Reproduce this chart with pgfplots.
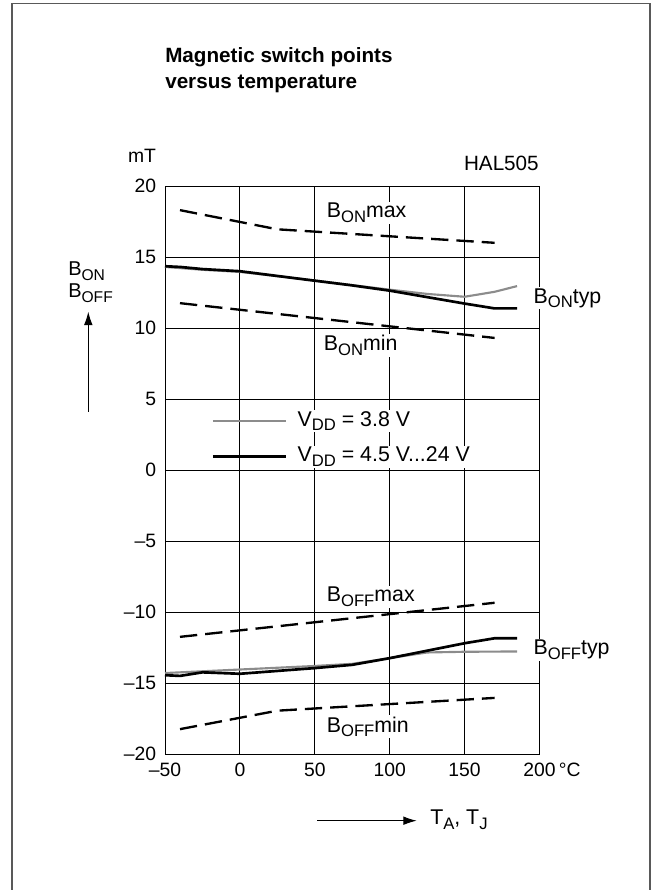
\documentclass[border=0pt]{standalone}
\usepackage{graphicx}
\usepackage{pgfplots}
\pgfplotsset{compat=1.18}
\usetikzlibrary{arrows.meta}
\usepackage{fontspec}
\setmainfont{Liberation Sans}
\newcommand\sub[1]{\raisebox{-0.42ex}{\scalebox{0.78}{#1}}}
\newcommand\lf{\fontsize{16}{18}\selectfont}
\definecolor{lgray}{HTML}{8C8C8C}
\begin{document}
\begin{tikzpicture}[x=0.75pt,y=0.75pt]
\useasboundingbox (0,0) rectangle (658,890);
\draw[line width=1.1pt, black!65] (12,0) -- (12,886.5) -- (650,886.5) -- (650,0);
\node[anchor=west, align=left, font=\fontsize{15.5}{19.5}\selectfont\bfseries, inner sep=0pt] at (165,820) {Magnetic switch points\\versus temperature};
\node[font=\fontsize{14.5}{16}\selectfont, inner sep=0pt] at (142,734) {mT};
\node[anchor=east, font=\fontsize{15.5}{17}\selectfont, inner sep=0pt] at (539,727) {HAL505};
\node[anchor=west, font=\fontsize{15}{17}\selectfont, inner sep=0pt] at (68,619) {B\sub{ON}};
\node[anchor=west, font=\fontsize{15}{17}\selectfont, inner sep=0pt] at (68,597) {B\sub{OFF}};
\draw[line width=0.75pt, -{Latex[length=10pt,width=6.5pt]}] (88.3,478.3) -- (88.3,578.3);
\draw[line width=0.75pt, -{Latex[length=10pt,width=6.5pt]}] (317,69.3) -- (416.7,69.3);
\node[anchor=west, font=\lf, inner sep=0pt] at (430,70) {T\sub{A}, T\sub{J}};
\begin{axis}[at={(123.75pt,102pt)}, anchor=south west, scale only axis,
  width=280.9pt, height=426pt,
  xmin=-50, xmax=200, ymin=-20, ymax=20,
  xtick={-50,0,50,100,150,200}, ytick={-20,-15,-10,-5,0,5,10,15,20},
  xticklabels={–50,0,50,100,150,200\rlap{\,°C}},
  yticklabels={–20,–15,–10,–5,0,5,10,15,20},
  grid=major, grid style={black, line width=0.75pt},
  axis line style={line width=0.75pt},
  major tick length=0pt,
  tick label style={font=\fontsize{14.5}{16}\selectfont},
  yticklabel style={anchor=east, inner sep=0pt, xshift=-6.5pt},
  xticklabel style={anchor=north, inner sep=0pt, yshift=-6.5pt},
  clip=false]
% B_ON max / min
\addplot[black, line width=1.75pt, dash pattern=on 13pt off 6pt] coordinates {(-40,18.3)(25,16.95)(170,16.0)};
\addplot[black, line width=1.75pt, dash pattern=on 13pt off 6pt] coordinates {(-40,11.75)(170,9.3)};
% B_OFF max / min
\addplot[black, line width=1.75pt, dash pattern=on 13pt off 6pt] coordinates {(-40,-11.75)(170,-9.35)};
\addplot[black, line width=1.75pt, dash pattern=on 13pt off 6pt] coordinates {(-40,-18.25)(25,-16.95)(170,-16.05)};
% typ, VDD=3.8V (gray)
\addplot[lgray, line width=1.6pt] coordinates {(-50,14.3)(-25,14.1)(0,13.95)(50,13.35)(75,13.02)(100,12.7)(125,12.4)(150,12.2)(170,12.55)(185,12.95)};
\addplot[lgray, line width=1.6pt] coordinates {(-50,-14.3)(0,-14.05)(50,-13.8)(75,-13.65)(100,-13.25)(125,-12.85)(150,-12.8)(185,-12.78)};
% typ, VDD=4.5...24V (black)
\addplot[black, line width=2pt] coordinates {(-50,14.35)(-40,14.3)(-25,14.15)(0,14.0)(50,13.33)(75,13.0)(100,12.63)(150,11.72)(170,11.38)(185,11.38)};
\addplot[black, line width=2pt] coordinates {(-50,-14.45)(-40,-14.5)(-25,-14.25)(0,-14.35)(50,-13.95)(75,-13.72)(100,-13.25)(150,-12.2)(170,-11.85)(185,-11.85)};
% legend
\node[anchor=west, fill=white, inner sep=1pt, font=\lf] at (axis cs:37.5,3.45) {V\sub{DD} = 3.8 V};
\node[anchor=west, fill=white, inner sep=1pt, font=\lf] at (axis cs:37.5,0.94) {V\sub{DD} = 4.5 V...24 V};
\addplot[lgray, line width=1.6pt] coordinates {(-18,3.45)(31,3.45)};
\addplot[black, line width=2pt] coordinates {(-18,0.94)(31,0.94)};
% labels
\node[anchor=west, fill=white, inner sep=1pt, font=\lf] at (axis cs:57,18.1) {B\sub{ON}max};
\node[anchor=west, fill=white, inner sep=1pt, font=\lf] at (axis cs:55,8.8) {B\sub{ON}min};
\node[anchor=west, fill=white, inner sep=1pt, font=\lf] at (axis cs:195,12.1) {B\sub{ON}typ};
\node[anchor=west, fill=white, inner sep=1pt, font=\lf] at (axis cs:57,-8.92) {B\sub{OFF}max};
\node[anchor=west, fill=white, inner sep=1pt, font=\lf] at (axis cs:195,-12.68) {B\sub{OFF}typ};
\node[anchor=west, fill=white, inner sep=1pt, font=\lf] at (axis cs:57,-18.08) {B\sub{OFF}min};
\end{axis}
\end{tikzpicture}
\end{document}
